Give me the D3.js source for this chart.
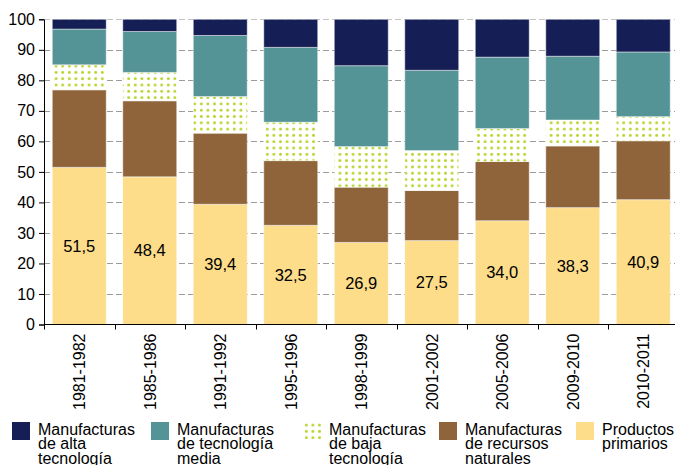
<!DOCTYPE html>
<html>
<head>
<meta charset="utf-8">
<script src="https://cdn.jsdelivr.net/npm/d3@7"></script>
<style>
	body { margin: 0; background: #fff; }
	svg text { font-family: "Liberation Sans", Arial, sans-serif; fill: #000; }
</style>
</head>
<body>
<div id="graph"></div>
<script>
var periods = ["1981-1982", "1985-1986", "1991-1992", "1995-1996", "1998-1999", "2001-2002", "2005-2006", "2009-2010", "2010-2011"];

// shares (%) per group, bottom to top
var primarios = [51.5, 48.4, 39.4, 32.5, 26.9, 27.5, 34.0, 38.3, 40.9];
var recursos  = [25.4, 24.9, 23.3, 21.2, 18.1, 16.4, 19.4, 20.2, 19.3];
var baja      = [8.2, 9.3, 12.0, 12.6, 13.3, 13.1, 10.8, 8.5, 7.9];
var media     = [11.7, 13.4, 20.0, 24.5, 26.5, 26.3, 23.4, 20.9, 21.2];
var alta      = [3.2, 4.0, 5.3, 9.2, 15.2, 16.7, 12.4, 12.1, 10.7];

var yTicks = [0, 10, 20, 30, 40, 50, 60, 70, 80, 90, 100];

var keys = ["primarios", "recursos", "baja", "media", "alta"];
var legendLabels = [
	["Manufacturas", "de alta", "tecnología"],
	["Manufacturas", "de tecnología", "media"],
	["Manufacturas", "de baja", "tecnología"],
	["Manufacturas", "de recursos", "naturales"],
	["Productos", "primarios"]
];
var legendKeys = ["alta", "media", "baja", "recursos", "primarios"];
var legendX = [12, 151, 303, 439, 576];

var width = 675, height = 465;
var margin = { left: 44, top: 19.3, bottom: 140.5 };

var colors = {
	primarios: "#fddc8a",
	recursos: "#8f643a",
	baja: "url(#dots)",
	media: "#559496",
	alta: "#161f55"
};

var data = periods.map(function (p, i) {
	return { period: p, primarios: primarios[i], recursos: recursos[i], baja: baja[i], media: media[i], alta: alta[i] };
});

var svg = d3.select("#graph")
	.append("svg")
	.attr("width", width)
	.attr("height", height);

var defs = svg.append("defs");
var pat = defs.append("pattern")
	.attr("id", "dots")
	.attr("patternUnits", "userSpaceOnUse")
	.attr("width", 6.6)
	.attr("height", 6.3);
pat.append("rect").attr("width", 6.6).attr("height", 6.3).attr("fill", "#fff");
pat.append("circle").attr("cx", 3.3).attr("cy", 3.1).attr("r", 1.45).attr("fill", "#b7d42c");

var x = d3.scaleBand()
	.domain(periods)
	.range([margin.left, margin.left + 70.5 * periods.length])
	.paddingInner(0.235)
	.paddingOuter(0.1175);

var y = d3.scaleLinear()
	.domain([0, 100])
	.range([height - margin.bottom, margin.top]);

// grid
svg.append("g")
	.selectAll("line")
	.data(yTicks.filter(function (d) { return d > 0; }))
	.enter()
	.append("line")
	.attr("x1", margin.left)
	.attr("x2", width)
	.attr("y1", function (d) { return Math.round(y(d)) + 0.5; })
	.attr("y2", function (d) { return Math.round(y(d)) + 0.5; })
	.attr("stroke", function (d) { return d === 100 ? "#c4c4c4" : "#9c9c9c"; })
	.attr("stroke-width", 1)
	.attr("stroke-dasharray", "6,3");

var series = d3.stack().keys(keys)(data);

svg.append("g")
	.selectAll("g")
	.data(series)
	.enter()
	.append("g")
	.attr("fill", function (d) { return colors[d.key]; })
	.selectAll("rect")
	.data(function (d) { return d; })
	.enter()
	.append("rect")
	.attr("x", function (d) { return x(d.data.period); })
	.attr("width", x.bandwidth())
	.attr("y", function (d) { return y(d[1]); })
	.attr("height", function (d) { return y(d[0]) - y(d[1]); })
	.attr("stroke", "rgba(255,255,255,0.45)")
	.attr("stroke-width", 1);

// value labels for primary products
svg.append("g")
	.selectAll("text")
	.data(data)
	.enter()
	.append("text")
	.attr("x", function (d) { return x(d.period) + x.bandwidth() / 2; })
	.attr("y", function (d) { return y(d.primarios / 2); })
	.attr("dy", "0.35em")
	.attr("text-anchor", "middle")
	.style("font-size", "16.5px")
	.text(function (d) { return d3.format(".1f")(d.primarios).replace(".", ","); });

// y axis
var yAxis = svg.append("g")
	.attr("transform", "translate(" + margin.left + ",0)")
	.call(d3.axisLeft(y).tickValues(yTicks).tickSize(5).tickPadding(4));
yAxis.selectAll("text").style("font-size", "16px").attr("fill", "#000");
yAxis.select(".domain").attr("stroke", "#000");
yAxis.selectAll(".tick line").attr("stroke", "#000");

// x axis
var xAxis = svg.append("g")
	.attr("transform", "translate(0," + (height - margin.bottom) + ")");
xAxis.append("line")
	.attr("x1", margin.left)
	.attr("x2", width)
	.attr("stroke", "#000");
xAxis.selectAll(".sep")
	.data(d3.range(periods.length + 1))
	.enter()
	.append("line")
	.attr("class", "sep")
	.attr("x1", function (i) { return Math.round(margin.left + x.step() * i) + 0.5; })
	.attr("x2", function (i) { return Math.round(margin.left + x.step() * i) + 0.5; })
	.attr("y1", 0)
	.attr("y2", 5)
	.attr("stroke", "#000");
xAxis.selectAll(".lbl")
	.data(periods)
	.enter()
	.append("text")
	.attr("class", "lbl")
	.attr("transform", function (d) {
		return "translate(" + (x(d) + x.bandwidth() / 2 + 6) + ",9) rotate(-90)";
	})
	.attr("text-anchor", "end")
	.style("font-size", "16px")
	.text(function (d) { return d; });

// legend
var legend = svg.append("g")
	.attr("transform", "translate(0,422)")
	.selectAll("g")
	.data(legendKeys)
	.enter()
	.append("g")
	.attr("transform", function (d, i) { return "translate(" + legendX[i] + ",0)"; });

legend.append("rect")
	.attr("width", 18)
	.attr("height", 18)
	.attr("fill", function (d) { return colors[d]; });

legend.append("text")
	.attr("x", 26)
	.attr("y", 13)
	.style("font-size", "16px")
	.selectAll("tspan")
	.data(function (d, i) { return legendLabels[i]; })
	.enter()
	.append("tspan")
	.attr("x", 26)
	.attr("dy", function (d, i) { return i === 0 ? 0 : 14.3; })
	.text(function (d) { return d; });
</script>
</body>
</html>
